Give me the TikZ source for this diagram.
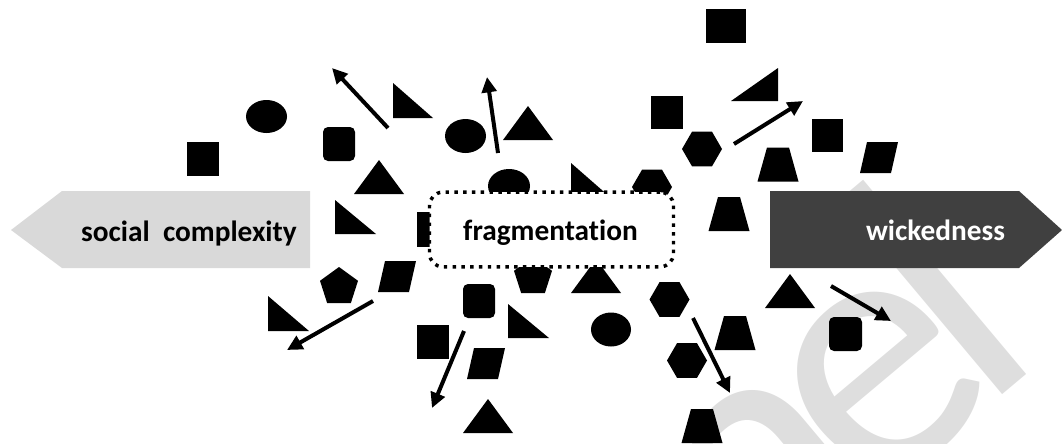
\documentclass[tikz,border=0pt]{standalone}
\usepackage{fontspec}
\setmainfont{Carlito}[Ligatures={NoCommon,NoContextual}]
\usetikzlibrary{arrows.meta}
\definecolor{wmgray}{HTML}{DEDEDE}
\definecolor{lgray}{HTML}{D9D9D9}
\definecolor{dgray}{HTML}{404040}
\tikzset{every picture/.style={x=0.75pt, y=-0.75pt}}
\tikzset{shp/.style = {fill=black}}
\tikzset{mv/.style = {line width=3pt, -{Triangle[length=11.5pt, width=11pt]}}}
\tikzset{lbl/.style = {font=\fontsize{22}{26}\selectfont\bfseries, inner sep=0pt}}
\tikzset{fragbox/.style = {draw, fill=white, line width=2.6pt, dash pattern=on 2.6pt off 4pt,
                           rounded corners=10pt, minimum width=183pt, minimum height=56pt}}
\newcommand{\hexshape}[2]{\fill[shp, shift={(#1,#2)}]
  (-20,0) -- (-10,-17.3) -- (10,-17.3) -- (20,0) -- (10,17.3) -- (-10,17.3) -- cycle;}
\newcommand{\pentshape}[2]{\fill[shp, shift={(#1,#2)}]
  (0,-20) -- (19,-6.2) -- (11.8,16.2) -- (-11.8,16.2) -- (-19,-6.2) -- cycle;}
\newcommand{\trapshape}[2]{\fill[shp, shift={(#1,#2)}]
  (-11,-17) -- (11,-17) -- (20.5,17) -- (-20.5,17) -- cycle;}
\newcommand{\trishape}[2]{\fill[shp, shift={(#1,#2)}]
  (0,0) -- (25,34) -- (-25,34) -- cycle;}
\newcommand{\parashape}[2]{\fill[shp, shift={(#1,#2)}]
  (-8,-15.5) -- (23,-15.5) -- (16,15.5) -- (-15,15.5) -- cycle;}

\begin{document}
\begin{tikzpicture}

      \useasboundingbox (0,0) rectangle (1062,443);

      \begin{scope}
        \clip (0,0) rectangle (1062,443);
        \node[text=wmgray, font=\fontsize{274}{274}\selectfont, inner sep=0pt,
              rotate=40, anchor=base east] (wm) at (1047,358) {n\kern-22pt e\kern-25pt l};
      \end{scope}

      \fill[lgray] (310,191) -- (62,191) -- (11,230) -- (62,268) -- (310,268) -- cycle;
      \fill[dgray] (770,191) -- (1019,191) -- (1062,230) -- (1019,268) -- (770,268) -- cycle;
      \node[lbl, anchor=base east] (soc) at (297,241) {social\ \ complexity};
      \node[lbl, text=white, anchor=base] (wick) at (935.5,240) {wickedness};

      \fill[shp] (187,142) rectangle (219,176);
      \fill[shp] (417,212) rectangle (449,247);
      \fill[shp] (651,96) rectangle (683,129);
      \fill[shp] (706,9) rectangle (746,43);
      \fill[shp] (812,119) rectangle (843,152);
      \fill[shp] (417,325) rectangle (449,359);

      \fill[shp, rounded corners=3.75pt] (323,127) rectangle (355,161);
      \fill[shp, rounded corners=3.75pt] (463,284) rectangle (495,318);
      \fill[shp, rounded corners=3.75pt] (829,317) rectangle (862,351);

      \fill[shp] (266.5,116.5) ellipse [x radius=20.5, y radius=16.5];
      \fill[shp] (465.5,136) ellipse [x radius=20.5, y radius=17];
      \fill[shp] (509,186) ellipse [x radius=21, y radius=17];
      \fill[shp] (611,329.5) ellipse [x radius=20, y radius=17];

      \fill[shp] (393,83) -- (393,118) -- (433,118) -- cycle;
      \fill[shp] (335,200) -- (335,234) -- (376,234) -- cycle;
      \fill[shp] (268,296) -- (268,331) -- (309,331) -- cycle;
      \fill[shp] (508,304) -- (508,338) -- (549,338) -- cycle;
      \fill[shp] (571,163) -- (571,198) -- (611,198) -- cycle;
      \fill[shp] (778,68) -- (778,101) -- (731,101) -- cycle;

      \trishape{379}{160}
      \trishape{528}{106}
      \trishape{596}{259}
      \trishape{488}{399}
      \trishape{790}{274}

      \hexshape{702}{149}
      \hexshape{652}{187}
      \hexshape{669.5}{299.5}
      \hexshape{687}{360.5}

      \pentshape{339}{287}
      \pentshape{533}{277}

      \trapshape{778}{164.5}
      \trapshape{729}{214}
      \trapshape{735}{333}
      \trapshape{702}{426}

      \parashape{875}{157.5}
      \parashape{393}{276.5}
      \parashape{482}{363.5}

      \draw[mv] (388,128) -- (332,68);
      \draw[mv] (498,153) -- (487,77);
      \draw[mv] (734,144) -- (803,101);
      \draw[mv] (373,301) -- (287,350);
      \draw[mv] (464,331) -- (432,408);
      \draw[mv] (693,318) -- (730,393);
      \draw[mv] (831,286) -- (891,321);

      \node[fragbox] (frag) at (551.5,229.5) {};
      \node[lbl, anchor=base] (fragtxt) at (550.5,240) {fragmentation};

\end{tikzpicture}
\end{document}
